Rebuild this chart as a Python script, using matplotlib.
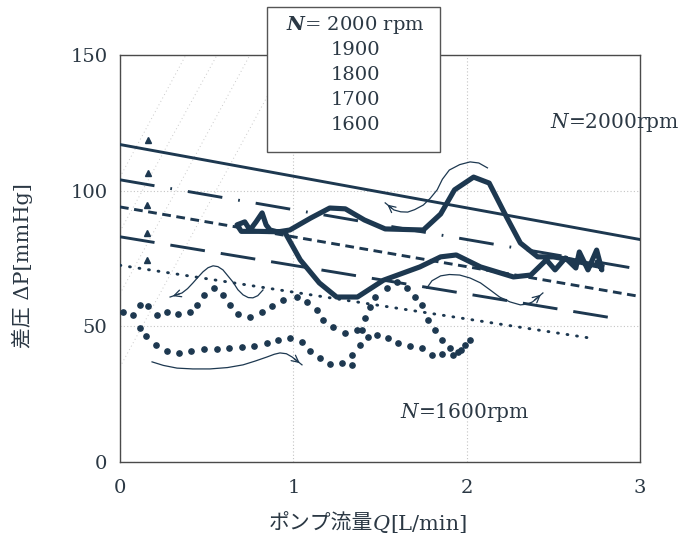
import numpy as np
import matplotlib.pyplot as plt
from matplotlib.patches import Rectangle

plt.rcParams['font.family'] = ['DejaVu Serif', 'Noto Sans CJK JP']
plt.rcParams['mathtext.fontset'] = 'dejavuserif'

INK = '#1d3850'
TXT = '#2b3844'

# --- pump characteristic lines (straight, one per speed) ---
speeds = [2000, 1900, 1800, 1700, 1600]
line_q = [[0, 3.0], [0, 3.0], [0, 3.0], [0, 2.85], [0, 2.73]]
line_dp = [[117, 82], [104, 71], [94, 61], [83, 53], [72.5, 45.5]]
line_styles = ['-', (0, (12, 5.5, 0.6, 5.5)), (0, (3, 1.9)), (0, (12, 5.5)), (0, (0.3, 3.0))]

# small arrow heads near left end of each line
tri_q = [0.16, 0.16, 0.155, 0.155, 0.155]
tri_dp = [118.7, 106.5, 94.7, 84.4, 74.5]

# faint diagonal guide lines (start/end)
guide_q = [[0, 0.38], [0, 0.56], [0, 0.75], [0, 0.98]]
guide_dp = [[105, 150], [85, 150], [62, 150], [35, 150]]

# measured loop at N=2000 rpm (thick solid)
q2000 = [2.78, 2.70, 2.60, 2.50, 2.41, 2.31, 2.23, 2.13, 2.04, 1.93, 1.85, 1.75,
         1.53, 1.41, 1.30, 1.21, 1.10, 0.98, 0.91, 0.866, 0.843, 0.82, 0.785, 0.75,
         0.72, 0.675, 0.70, 0.80, 0.95, 1.04, 1.15, 1.25, 1.37, 1.52, 1.73, 1.85,
         1.94, 2.08, 2.27, 2.37, 2.46, 2.51, 2.57, 2.63, 2.65, 2.70, 2.75, 2.78, 2.76]
dp2000 = [72, 73, 74.5, 75.6, 75.6, 80.7, 90.3, 102.8, 105, 100.3, 91.4, 85.5,
          85.9, 89.2, 93.3, 93.6, 89.9, 85.5, 84.8, 85.5, 87.4, 91.8, 88.5, 85.5,
          88.5, 87.4, 85, 85, 84.8, 74.5, 66, 60.8, 60.8, 67, 71.9, 75.6,
          76.3, 71.9, 68.2, 68.9, 74.5, 70.8, 75.2, 71.5, 77.4, 70.8, 78.1, 70.8, 73.7]

# measured loop at N=1600 rpm (large dots)
q1600 = [0.017, 0.115, 0.150, 0.208, 0.271, 0.340, 0.410, 0.485, 0.560, 0.629, 0.704,
         0.773, 0.848, 0.912, 0.981, 1.050, 1.096, 1.154, 1.212, 1.281, 1.339, 1.339,
         1.385, 1.396, 1.414, 1.443, 1.471, 1.541, 1.598, 1.656, 1.702, 1.743, 1.777,
         1.818, 1.858, 1.904, 1.950, 1.991, 2.020, 1.970, 1.921, 1.858, 1.800, 1.743,
         1.673, 1.604, 1.546, 1.483, 1.431, 1.368, 1.298, 1.229, 1.171, 1.137, 1.079,
         1.021, 0.941, 0.877, 0.819, 0.750, 0.681, 0.635, 0.594, 0.542, 0.485, 0.444,
         0.404, 0.335, 0.271, 0.213, 0.162, 0.115, 0.075]
dp1600 = [55.3, 49.4, 46.4, 43.1, 40.9, 40.2, 40.9, 41.7, 41.7, 42.0, 42.4,
          42.8, 43.9, 45.0, 45.7, 44.2, 40.9, 38.3, 36.1, 36.5, 35.8, 39.4,
          43.1, 48.7, 53.1, 57.1, 60.8, 64.1, 66.3, 64.1, 60.8, 57.9, 52.3,
          48.7, 45.0, 42.0, 40.5, 43.1, 45.0, 41.3, 39.4, 39.8, 39.4, 42.0,
          42.8, 43.9, 45.7, 46.8, 46.1, 48.7, 47.5, 49.8, 52.3, 56.0, 59.0,
          60.8, 59.7, 57.5, 55.3, 53.4, 54.6, 57.9, 61.6, 64.1, 61.6, 57.9,
          55.3, 54.6, 55.3, 54.2, 57.5, 57.9, 54.2]

# thin hand-drawn arrows showing the loop direction
arrows = [
    ([2.12, 2.07, 2.02, 1.96, 1.90, 1.86, 1.83, 1.79, 1.75, 1.70, 1.66, 1.62, 1.58, 1.53],
     [108.4, 110.2, 110.6, 109.6, 107.6, 104.2, 100.3, 97.2, 94.7, 93.0, 92.1, 92.2, 92.9, 95.5]),
    ([1.77, 1.80, 1.85, 1.90, 1.96, 2.02, 2.08, 2.14, 2.19, 2.25, 2.31, 2.35, 2.38, 2.44],
     [64.1, 66.8, 68.6, 69.1, 68.9, 67.8, 66.0, 63.2, 60.8, 59.0, 57.9, 58.2, 59.0, 62.3]),
    ([0.825, 0.795, 0.767, 0.74, 0.71, 0.68, 0.652, 0.594, 0.565, 0.537, 0.508, 0.479,
      0.45, 0.421, 0.39, 0.358, 0.289],
     [63.4, 61.3, 60.5, 60.6, 61.6, 63.5, 66.3, 70.8, 72.0, 72.3, 71.6, 70.1,
      68.1, 66.0, 63.9, 62.3, 60.8]),
    ([0.185, 0.25, 0.329, 0.42, 0.519, 0.62, 0.71, 0.78, 0.848, 0.89, 0.923, 0.96,
      0.993, 1.05],
     [36.9, 35.6, 34.6, 34.3, 34.3, 34.8, 35.8, 37.2, 38.7, 39.7, 40.2, 39.9,
      38.7, 35.8]),
]

fig = plt.figure(figsize=(6.88, 5.45), dpi=100)
ax = fig.add_axes([0.1744, 0.1523, 0.7558, 0.7468])

for gq, gd in zip(guide_q, guide_dp):
    ax.plot(gq, gd, ls=(0, (1, 3)), color='#c9c9c9', lw=0.7, zorder=1)

for q, dp, ls in zip(line_q, line_dp, line_styles):
    cap = 'round' if ls == line_styles[-1] else 'butt'
    ax.plot(q, dp, ls=ls, color=INK, lw=2.1, dash_capstyle=cap, zorder=3)

ax.plot(tri_q, tri_dp, ls='none', marker='^', ms=4, color=INK, zorder=3)

ax.plot(q2000, dp2000, color=INK, lw=3.7, solid_joinstyle='round', zorder=4)
ax.plot(q1600, dp1600, ls='none', marker='o', ms=3.8, color=INK, zorder=4)

for aq, ad in arrows:
    ax.plot(aq, ad, color=INK, lw=0.9, zorder=4)
    ax.annotate('', xy=(aq[-1], ad[-1]), xytext=(aq[-2], ad[-2]),
                arrowprops=dict(arrowstyle='->,head_length=0.5,head_width=0.25',
                                color=INK, lw=0.9), zorder=4)

# legend box sitting on the top edge
box = Rectangle((0.848, 114.3), 0.998, 53.4, facecolor='white', edgecolor='#555555',
                lw=1.0, clip_on=False, zorder=5)
ax.add_patch(box)
legend_rows = [r'$\boldsymbol{N}$= 2000 rpm', '1900', '1800', '1700', '1600']
row_dp = [161.1, 151.9, 142.7, 133.5, 124.3]
for lab, yy in zip(legend_rows, row_dp):
    ax.text(1.36, yy, lab, ha='center', va='center', fontsize=14, color=TXT,
            clip_on=False, zorder=6)

ax.text(2.48, 125.3, r'$N$=2000rpm', ha='left', va='center', fontsize=14.5,
        color=TXT, clip_on=False)
ax.text(1.616, 18.4, r'$N$=1600rpm', ha='left', va='center', fontsize=14.5, color=TXT)

ax.set_xlim(0, 3)
ax.set_ylim(0, 150)
ax.set_xticks([0, 1, 2, 3])
ax.set_yticks([0, 50, 100, 150])
ax.tick_params(length=0, labelsize=14, labelcolor=TXT)
ax.tick_params(axis='x', pad=12)
ax.tick_params(axis='y', pad=9)
ax.grid(True, ls=(0, (1, 2)), color='#c4c4c4', lw=0.8)
ax.set_axisbelow(True)
for s in ax.spines.values():
    s.set_color('#4a4a4a')
    s.set_linewidth(1.0)

# x label with italic Q
t1 = fig.text(0.39, 0.02, 'ポンプ流量', fontsize=15, color=TXT, va='bottom')
t2 = ax.annotate('Q', xy=(1, 0), xycoords=t1, va='bottom', fontsize=15,
                 color=TXT, style='italic', annotation_clip=False)
t3 = ax.annotate('[L/min]', xy=(1, 0), xycoords=t2, va='bottom', fontsize=15,
                 color=TXT, annotation_clip=False)

fig.text(0.032, 0.513, '差圧 ΔP[mmHg]', rotation=90, ha='center', va='center',
         fontsize=15, color=TXT)

fig.savefig('out.png', dpi=100)
